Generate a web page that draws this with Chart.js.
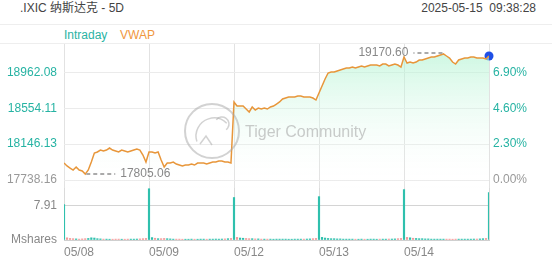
<!DOCTYPE html>
<html>
<head>
<meta charset="utf-8">
<script src="https://cdn.jsdelivr.net/npm/chart.js@4.4.1/dist/chart.umd.min.js"></script>
<style>
  body { margin: 0; width: 552px; height: 265px; background: #fff; position: relative; overflow: hidden;
         font-family: "Liberation Sans", Arial, "Noto Sans CJK SC", sans-serif; }
  #title { position: absolute; left: 20px; top: 0; font-size: 12px; line-height: 16px; color: #444; }
  #time { position: absolute; right: 16px; top: 0; font-size: 12px; line-height: 16px; color: #444; white-space: pre; }
  #strip { position: absolute; left: 0; top: 24px; width: 552px; height: 18px; border-top: 1px solid #eee; border-bottom: 1px solid #eee; }
  #strip span { position: absolute; top: 2px; font-size: 12px; line-height: 16px; }
  #price { position: absolute; left: 0; top: 44px; }
  #vol { position: absolute; left: 0; top: 188px; }
</style>
</head>
<body>
<div id="title">.IXIC 纳斯达克 - 5D</div>
<div id="time">2025-05-15  09:38:28</div>
<div id="strip"><span style="left:64px;color:#2ab3a3">Intraday</span><span style="left:120px;color:#f0973e">VWAP</span></div>
<canvas id="price" width="552" height="144"></canvas>
<canvas id="vol" width="552" height="77"></canvas>
<script>
// 5 sessions, 28 samples each (roughly every 14 minutes)
const dayLabels = ["05/08", "05/09", "05/12", "05/13", "05/14"];
const prevClose = 17738.16;
const priceTicks = [17738.16, 18146.13, 18554.11, 18962.08];
const pctTicks = [0, 2.30, 4.60, 6.90];
const volTicks = [0, 7.91];

const day1 = [17931.4, 17897.3, 17874.5, 17851.8, 17885.9, 17851.8, 17840.4, 17805.06, 17851.8, 17942.7, 18045.0, 18056.4, 18079.1, 18067.7,
  18079.1, 18101.8, 18079.1, 18067.7, 18056.4, 18079.1, 18067.7, 18056.4, 18067.7, 18079.1, 18090.4, 18079.1, 18022.3, 17942.7];
const day2 = [18056.4, 18056.4, 18045.0, 18056.4, 17965.4, 17885.9, 17931.4, 17931.4, 17942.7, 17920.0, 17908.6, 17897.3, 17908.6, 17908.6,
  17920.0, 17908.6, 17931.4, 17931.4, 17931.4, 17920.0, 17931.4, 17942.7, 17942.7, 17954.1, 17954.1, 17942.7, 17942.7, 17931.4];
const day3 = [18624.6, 18579.1, 18579.1, 18579.1, 18545.0, 18510.9, 18567.8, 18533.6, 18556.4, 18545.0, 18556.4, 18545.0, 18567.8, 18579.1,
  18601.8, 18624.6, 18658.7, 18670.0, 18681.4, 18681.4, 18681.4, 18692.8, 18692.8, 18681.4, 18681.4, 18681.4, 18670.0, 18647.3];
const day4 = [18726.8, 18806.4, 18885.9, 18954.1, 18965.5, 18965.5, 18976.8, 18988.2, 18999.6, 19010.9, 19010.9, 19022.3, 19010.9, 19022.3,
  19033.7, 19022.3, 19033.7, 19045.0, 19045.0, 19045.0, 19033.7, 19056.4, 19056.4, 19033.7, 19045.0, 19056.4, 19045.0, 19022.3];
const day5 = [19136.0, 19067.8, 19079.1, 19067.8, 19079.1, 19101.8, 19101.8, 19113.2, 19124.6, 19136.0, 19136.0, 19147.3, 19158.7, 19170.60,
  19147.3, 19124.6, 19079.1, 19056.4, 19101.8, 19113.2, 19124.6, 19124.6, 19136.0, 19136.0, 19124.6, 19124.6, 19124.6, 19113.2];
const lastPrice = 19147.3;

// volume, millions of shares
const vol1 = [8.1, 0.5, 0.35, 0.3, 0.25, 0.2, 0.25, 0.3, 0.35, 0.5, 0.45, 0.3, 0.25, 0.2, 0.2, 0.18, 0.18, 0.2, 0.2, 0.18, 0.18, 0.2, 0.2, 0.2, 0.22, 0.25, 0.3, 0.35];
const vol2 = [11.7, 0.55, 0.4, 0.3, 0.3, 0.35, 0.3, 0.25, 0.2, 0.2, 0.2, 0.18, 0.18, 0.18, 0.2, 0.18, 0.18, 0.2, 0.2, 0.18, 0.2, 0.2, 0.22, 0.2, 0.22, 0.25, 0.3, 0.35];
const vol3 = [9.7, 0.6, 0.45, 0.4, 0.35, 0.3, 0.3, 0.25, 0.25, 0.2, 0.2, 0.2, 0.2, 0.18, 0.2, 0.2, 0.2, 0.2, 0.18, 0.18, 0.2, 0.2, 0.2, 0.2, 0.22, 0.25, 0.3, 0.35];
const vol4 = [9.9, 0.6, 0.45, 0.35, 0.3, 0.3, 0.25, 0.25, 0.2, 0.2, 0.2, 0.2, 0.18, 0.18, 0.2, 0.18, 0.18, 0.2, 0.2, 0.18, 0.2, 0.2, 0.2, 0.22, 0.22, 0.25, 0.3, 0.35];
const vol5 = [11.5, 0.6, 0.5, 0.4, 0.35, 0.3, 0.3, 0.25, 0.25, 0.2, 0.2, 0.2, 0.2, 0.2, 0.2, 0.2, 0.18, 0.2, 0.2, 0.2, 0.2, 0.2, 0.2, 0.22, 0.22, 0.25, 0.3, 0.35];
const lastVol = 10.8;

const perDay = 28;
const font = { family: '"Liberation Sans", Arial, sans-serif', size: 12 };

const priceData = [];
[day1, day2, day3, day4, day5].forEach((d, k) => d.forEach((v, i) => priceData.push({ x: k * perDay + i, y: v })));
priceData.push({ x: dayLabels.length * perDay, y: lastPrice });

const volData = [];
[vol1, vol2, vol3, vol4, vol5].forEach((d, k) => d.forEach((v, i) => volData.push({ x: k * perDay + i, y: v })));
volData.push({ x: dayLabels.length * perDay, y: lastVol });

const volColors = volData.map((p, i) => {
  if (i === 0) return "#2fc0ad";
  return priceData[i].y >= priceData[i - 1].y ? "#2fc0ad" : "#f29a9a";
});

const xMax = dayLabels.length * perDay;
const dayTicks = scale => { scale.ticks = dayLabels.map((l, i) => ({ value: i * perDay })).concat([{ value: xMax }]); };
// keep the plot area exactly where the axes say, without label padding
const noPad = s => { s.paddingTop = 0; s.paddingBottom = 0; s.paddingLeft = 0; s.paddingRight = 0; };

const yMin = 17647.3, yMax = 19283.7;
const pct = v => (v / prevClose - 1) * 100;

const markers = {
  id: "markers",
  afterDatasetsDraw(chart) {
    const { ctx, scales: { x, y } } = chart;
    const pts = chart.data.datasets[0].data;
    let lo = pts[0], hi = pts[0];
    pts.forEach(p => { if (p.y < lo.y) lo = p; if (p.y > hi.y) hi = p; });
    ctx.save();
    ctx.strokeStyle = "#aaa";
    ctx.lineWidth = 2;
    ctx.setLineDash([4, 3]);
    ctx.font = '12px "Liberation Sans", Arial';
    ctx.fillStyle = "#888";
    ctx.textBaseline = "middle";
    let px = x.getPixelForValue(lo.x), py = y.getPixelForValue(lo.y);
    ctx.beginPath(); ctx.moveTo(px + 1, py); ctx.lineTo(px + 30, py); ctx.stroke();
    ctx.textAlign = "left";
    ctx.fillText(lo.y.toFixed(2), px + 35, py);
    px = x.getPixelForValue(hi.x); py = y.getPixelForValue(hi.y) - 1;
    ctx.beginPath(); ctx.moveTo(px - 1, py); ctx.lineTo(px - 30, py); ctx.stroke();
    ctx.textAlign = "right";
    ctx.fillText(hi.y.toFixed(2), px - 35, py);

    // watermark
    ctx.setLineDash([]);
    ctx.strokeStyle = "rgba(165,165,165,0.5)";
    ctx.lineWidth = 2;
    ctx.beginPath(); ctx.arc(212, 87, 27, 0, Math.PI * 2); ctx.stroke();
    ctx.lineWidth = 1.5;
    ctx.beginPath(); ctx.arc(214, 92, 18, Math.PI * 0.9, Math.PI * 1.75); ctx.stroke();
    ctx.beginPath(); ctx.arc(222, 80, 7, Math.PI * 1.2, Math.PI * 0.3); ctx.stroke();
    ctx.beginPath(); ctx.moveTo(200, 100); ctx.lineTo(206, 92); ctx.lineTo(212, 101); ctx.stroke();
    ctx.font = '16px "Liberation Sans", Arial';
    ctx.fillStyle = "rgba(160,160,160,0.55)";
    ctx.textAlign = "left";
    ctx.fillText("Tiger Community", 245, 89);
    ctx.restore();
  }
};

new Chart(document.getElementById("price"), {
  type: "line",
  data: {
    datasets: [{
      data: priceData,
      borderColor: "#e8963a",
      borderWidth: 1.5,
      tension: 0,
      fill: "start",
      backgroundColor: c => {
        const a = c.chart.chartArea;
        if (!a) return "transparent";
        const g = c.chart.ctx.createLinearGradient(0, a.top, 0, a.bottom);
        g.addColorStop(0, "rgba(170,242,205,0.65)");
        g.addColorStop(1, "rgba(255,255,255,0)");
        return g;
      },
      pointRadius: 0
    }, {
      // the last trade, drawn on top and allowed past the plot edge
      data: [{ x: xMax, y: lastPrice }],
      showLine: false,
      clip: 8,
      pointRadius: 4.5,
      pointBackgroundColor: "#1f4fe6",
      pointBorderWidth: 0
    }]
  },
  options: {
    responsive: false,
    animation: false,
    layout: { padding: 0, autoPadding: false },
    plugins: { legend: { display: false }, tooltip: { enabled: false } },
    scales: {
      x: {
        type: "linear", min: 0, max: xMax,
        afterBuildTicks: dayTicks,
        afterFit: s => { s.height = 0; noPad(s); },
        ticks: { display: false },
        grid: { color: "#e2e2e2", drawTicks: false },
        border: { display: false }
      },
      y: {
        position: "left", min: yMin, max: yMax,
        afterBuildTicks: s => { s.ticks = priceTicks.map(v => ({ value: v })); },
        afterFit: s => { s.width = 64; noPad(s); },
        ticks: {
          font, padding: 7,
          color: c => (c.tick.value === prevClose ? "#999" : "#26b3a3"),
          callback: v => v.toFixed(2)
        },
        grid: { color: "#ebebeb", drawTicks: false },
        border: { display: false }
      },
      y1: {
        position: "right", min: pct(yMin), max: pct(yMax),
        afterBuildTicks: s => { s.ticks = pctTicks.map(v => ({ value: v })); },
        afterFit: s => { s.width = 63; noPad(s); },
        ticks: {
          font, padding: 4,
          color: c => (c.tick.value === 0 ? "#999" : "#26b3a3"),
          callback: v => v.toFixed(2) + "%"
        },
        grid: { display: false, drawTicks: false },
        border: { display: false }
      }
    }
  },
  plugins: [markers]
});

new Chart(document.getElementById("vol"), {
  type: "bar",
  data: {
    datasets: [{ data: volData, backgroundColor: volColors, barThickness: 1.5 }]
  },
  options: {
    responsive: false,
    animation: false,
    layout: { padding: { right: 63 }, autoPadding: false },
    plugins: { legend: { display: false }, tooltip: { enabled: false } },
    scales: {
      x: {
        type: "linear", min: 0, max: xMax, offset: false,
        afterBuildTicks: dayTicks,
        afterFit: s => { s.height = 25; noPad(s); },
        ticks: {
          font, color: "#888", padding: 5, align: "start", maxRotation: 0,
          callback: v => dayLabels[v / perDay] || ""
        },
        grid: { color: "#dadada", drawTicks: false, offset: false },
        border: { display: true, color: "#cfcfcf" }
      },
      y: {
        position: "left", min: 0, max: 11.87,
        afterBuildTicks: s => { s.ticks = volTicks.map(v => ({ value: v })); },
        afterFit: s => { s.width = 64; noPad(s); },
        ticks: {
          font, color: "#888", padding: 7, autoSkip: false,
          callback: v => (v === 0 ? "Mshares" : v.toFixed(2))
        },
        grid: { display: true, drawOnChartArea: true, color: "#d4d4d4", lineWidth: 1, drawTicks: false },
        border: { display: false }
      }
    }
  }
});
</script>
</body>
</html>
